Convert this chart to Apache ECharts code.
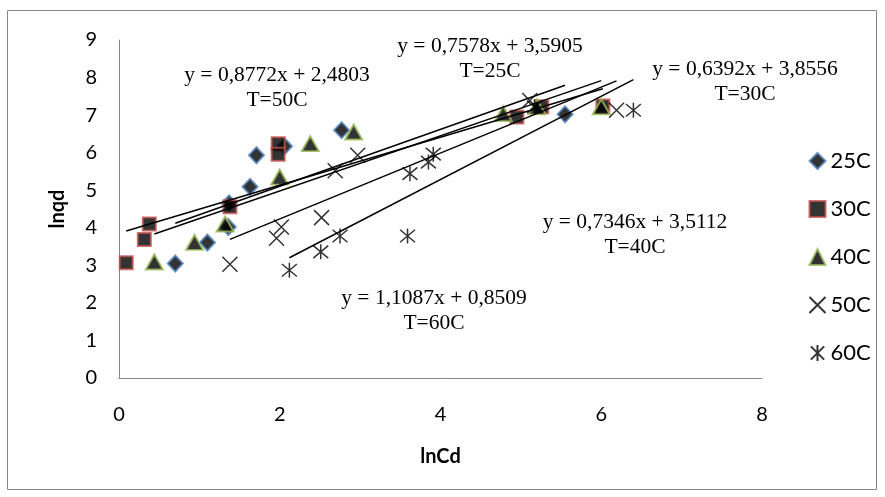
<!DOCTYPE html>
<html>
<head>
<meta charset="utf-8">
<script src="https://cdn.jsdelivr.net/npm/echarts@6/dist/echarts.min.js"></script>
<style>
html,body{margin:0;padding:0;background:#fff;}
#c{width:885px;height:497px;}
</style>
</head>
<body>
<div id="c"></div>
<script>
// ---- data ----
const seriesNames = ['25C', '30C', '40C', '50C', '60C'];
const d25 = [[0.70,3.05],[1.10,3.61],[1.36,4.02],[1.37,4.65],[1.63,5.09],[1.71,5.93],[2.06,6.17],[2.77,6.60],[5.55,7.02]];
const d30 = [[0.09,3.07],[0.315,3.69],[0.377,4.10],[1.38,4.56],[1.98,6.24],[1.98,5.96],[4.95,6.95],[5.26,7.22],[6.02,7.24]];
const d40 = [[0.44,3.09],[0.94,3.61],[1.32,4.10],[2.00,5.35],[2.38,6.24],[2.92,6.55],[4.78,7.04],[5.20,7.22],[6.00,7.22]];
const d50 = [[1.38,3.03],[1.96,3.72],[2.02,4.02],[2.52,4.27],[2.69,5.52],[2.97,5.93],[5.11,7.39],[6.19,7.13]];
const d60 = [[2.12,2.87],[2.51,3.36],[2.75,3.78],[3.59,3.78],[3.62,5.44],[3.85,5.75],[3.91,5.96],[5.17,7.22],[6.40,7.13]];
const slopes = [0.7578, 0.6392, 0.7346, 0.8772, 1.1087];
const intercepts = [3.5905, 3.8556, 3.5112, 2.4803, 0.8509];
const eqLabels = ['y = 0,7578x + 3,5905\nT=25C', 'y = 0,6392x + 3,8556\nT=30C', 'y = 0,7346x + 3,5112\nT=40C', 'y = 0,8772x + 2,4803\nT=50C', 'y = 1,1087x + 0,8509\nT=60C'];
const eqPos = [[490,59],[745,82],[635,235],[277,88],[434,311]];
const xTicks = {min:0, max:8, interval:2};
const yTicks = {min:0, max:9, interval:1};

const allData = [d25, d30, d40, d50, d60];
const symbols = ['diamond', 'rect', 'triangle', 'path://M0,0L10,10M10,0L0,10', 'path://M0,1L10,11M10,1L0,11M5,0L5,12'];
const sizes = [[15,16], 13, [17,15], 15, 15];
const styles = [
  {color:'#000', borderColor:'#4F81BD', borderWidth:2},
  {color:'#000', borderColor:'#C0504D', borderWidth:2},
  {color:'#000', borderColor:'#9BBB59', borderWidth:2},
  {color:'none', borderColor:'#000', borderWidth:1.5},
  {color:'none', borderColor:'#000', borderWidth:1.5}
];

const series = [];
allData.forEach((d, i) => {
  series.push({
    name: seriesNames[i], type: 'scatter', data: d,
    symbol: symbols[i], symbolSize: sizes[i], itemStyle: styles[i],
    z: 2 + i, emphasis: {disabled: true}
  });
});
allData.forEach((d, i) => {
  const xs = d.map(p => p[0]);
  const x0 = Math.min(...xs), x1 = Math.max(...xs);
  series.push({
    type: 'line', data: [[x0, slopes[i]*x0 + intercepts[i]], [x1, slopes[i]*x1 + intercepts[i]]],
    symbol: 'none', lineStyle: {color:'#000', width: 1.5}, z: 10, silent: true
  });
});

const chart = echarts.init(document.getElementById('c'), null, {renderer:'canvas'});
const axisFont = 'Lato, Carlito, "Open Sans", sans-serif';
chart.setOption({
  animation: false,
  backgroundColor: '#fff',
  grid: {left:119, top:40, width:643, height:338},
  xAxis: {
    type:'value', min:xTicks.min, max:xTicks.max, interval:xTicks.interval,
    name:'lnCd', nameLocation:'middle', nameGap:69,
    nameTextStyle:{fontFamily:axisFont, fontWeight:'bold', fontSize:20, color:'#000'},
    axisLine:{show:true, onZero:false, lineStyle:{color:'#868686', width:1}},
    axisTick:{show:false}, splitLine:{show:false},
    axisLabel:{fontFamily:axisFont, fontSize:20, color:'#000', margin:27}
  },
  yAxis: {
    type:'value', min:yTicks.min, max:yTicks.max, interval:yTicks.interval,
    name:'lnqd', nameLocation:'middle', nameGap:51, nameRotate:90,
    nameTextStyle:{fontFamily:axisFont, fontWeight:'bold', fontSize:20, color:'#000'},
    axisLine:{show:true, onZero:false, lineStyle:{color:'#868686', width:1}},
    axisTick:{show:false}, splitLine:{show:false},
    axisLabel:{fontFamily:axisFont, fontSize:20, color:'#000', margin:22}
  },
  legend: {
    orient:'vertical', left:807, top:150, padding:0, itemWidth:16, itemHeight:16, itemGap:26,
    data: seriesNames,
    textStyle:{fontFamily:axisFont, fontSize:22, color:'#000'}
  },
  graphic: [
    {type:'rect', shape:{x:7.5, y:10.5, width:869, height:479}, style:{fill:'none', stroke:'#868686', lineWidth:1}, silent:true}
  ].concat(eqLabels.map((t, i) => ({
    type:'text', x:eqPos[i][0], y:eqPos[i][1], z:20,
    style:{text:t, fill:'#000', font:'21.5px "Liberation Serif", "Times New Roman", serif', textAlign:'center', textVerticalAlign:'middle', lineHeight:25}
  }))),
  series: series
});
</script>
</body>
</html>
